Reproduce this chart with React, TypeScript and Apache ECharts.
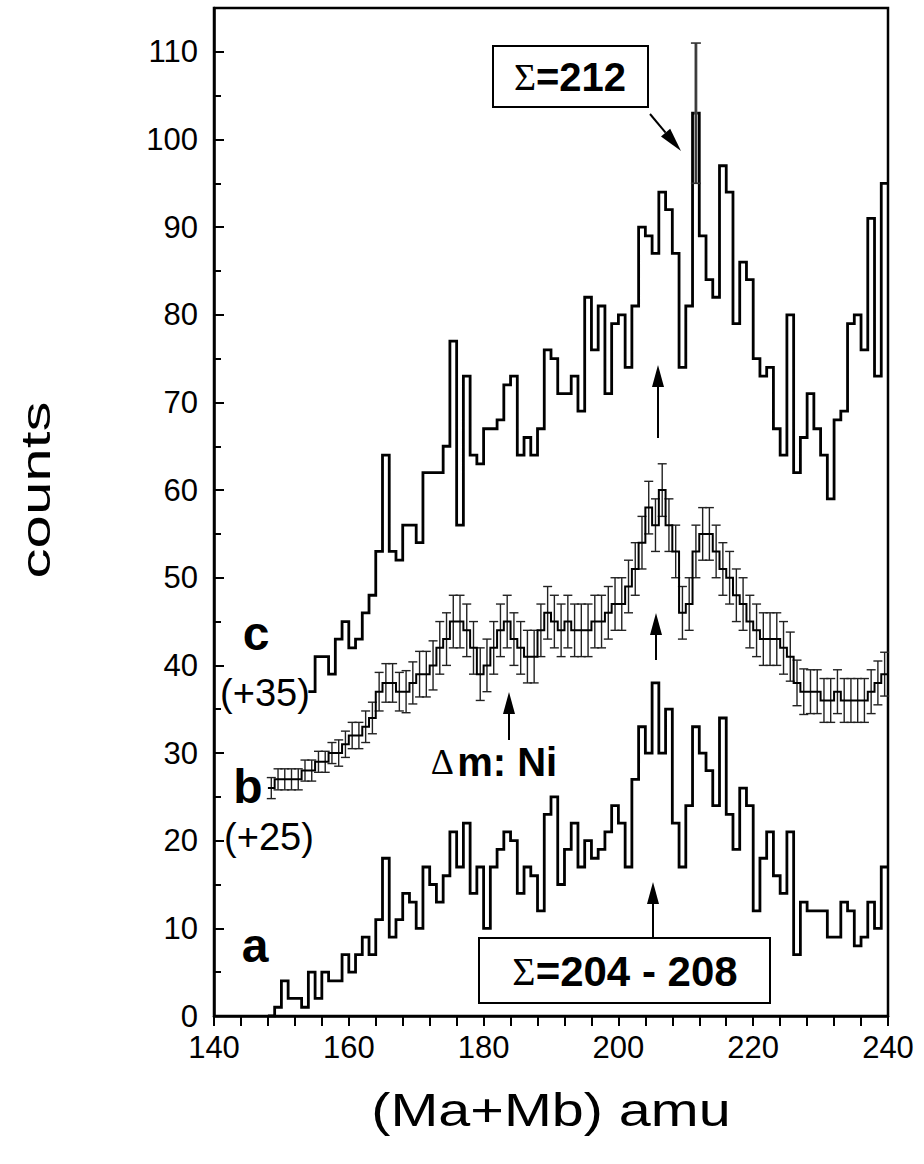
import React, { useEffect, useRef } from "react";
import * as echarts from "echarts";

// ---- data (bins are 1 amu wide, starting at the given mass) ----
const xTicks = [140, 160, 180, 200, 220, 240];
const yTicks = [0, 10, 20, 30, 40, 50, 60, 70, 80, 90, 100, 110];

// trace a (no offset), bins 148..239
const aStart = 148;
const aCounts = [
  0, 1, 4, 2, 2, 1, 5, 2, 5, 4,
  4, 7, 5, 7, 9, 7, 11, 18, 9, 11,
  14, 13, 10, 17, 15, 13, 16, 21, 17, 22,
  14, 17, 10, 17, 19, 21, 20, 14, 17, 16,
  12, 23, 25, 15, 19, 22, 17, 20, 18, 19,
  21, 24, 22, 17, 27, 33, 30, 38, 30, 35,
  22, 17, 24, 33, 30, 28, 24, 34, 23, 19,
  26, 24, 12, 18, 21, 16, 14, 21, 7, 13,
  12, 12, 12, 9, 9, 13, 12, 8, 9, 13,
  10, 17,
];

// trace b (+25), bins 148..239, with error half-widths
const bOffset = 25;
const bStart = 148;
const bCounts = [
  1, 2, 2, 2, 2, 3, 3, 4, 4, 5,
  5, 6, 7, 7, 8, 9, 12, 13, 13, 12,
  12, 13, 14, 14, 15, 17, 18, 20, 20, 19,
  17, 14, 15, 17, 19, 20, 18, 17, 16, 16,
  19, 21, 20, 19, 20, 19, 19, 19, 20, 20,
  21, 22, 22, 24, 26, 29, 33, 31, 35, 31,
  28, 21, 22, 28, 30, 30, 28, 26, 25, 23,
  22, 20, 19, 18, 18, 18, 17, 16, 13, 12,
  12, 12, 11, 11, 12, 11, 11, 11, 11, 12,
  13, 14,
];
const bErrors = [
  1.2, 1.2, 1.2, 1.2, 1.2, 1.2, 1.2, 1.2, 1.2, 1.2,
  1.5, 1.5, 1.5, 1.5, 1.8, 1.8, 2.2, 2.2, 2.2, 2.2,
  2.4, 2.4, 2.6, 2.6, 2.8, 3, 3, 3, 3, 3,
  3, 3, 3, 3, 3, 3, 3, 3, 3, 3,
  3, 3, 3, 3, 3, 3, 3, 3, 3, 3,
  3, 3, 3, 3, 3, 3, 3, 3, 3, 3,
  3, 3, 3, 3, 3, 3, 3, 3, 3, 3,
  3, 3, 3, 3, 3, 3, 3, 2.8, 2.6, 2.6,
  2.5, 2.5, 2.5, 2.5, 2.5, 2.5, 2.5, 2.5, 2.5, 2.5,
  2.5, 2.5,
];

// trace c (+35), bins 154..239
const cOffset = 35;
const cStart = 154;
const cCounts = [
  2, 6, 6, 4, 8, 10, 7, 8, 11, 13,
  18, 29, 18, 17, 21, 21, 19, 27, 27, 27,
  30, 42, 21, 38, 29, 28, 32, 32, 33, 37,
  38, 29, 31, 29, 32, 41, 40, 36, 36, 38,
  34, 47, 41, 46, 36, 44, 45, 39, 46, 55,
  54, 52, 59, 57, 52, 39, 46, 68, 54, 49,
  47, 62, 59, 44, 51, 49, 40, 38, 39, 32,
  29, 45, 27, 31, 36, 32, 29, 24, 33, 34,
  44, 45, 41, 56, 38, 60,
];
// single error bar drawn on the Σ=212 bin of trace c (raw counts)
const cErrBins = [211];
const cErrLow = [60];
const cErrHigh = [76];

const FONT = '"Liberation Sans", Arial, Helvetica, sans-serif';
const SERIF = '"Liberation Serif", "DejaVu Serif", serif';

function stepData(start: number, vals: number[], offset: number) {
  const pts: number[][] = vals.map((v, i) => [start + i, v + offset]);
  pts.push([start + vals.length, vals[vals.length - 1] + offset]);
  return pts;
}

function errorRender(capHalf: number, color: string, width: number, bandWidth = 0) {
  return (params: any, api: any) => {
    const x = api.value(0);
    const lo = api.coord([x, api.value(1)]);
    const hi = api.coord([x, api.value(2)]);
    const style = { stroke: color, lineWidth: width };
    const children: any[] = [
      { type: "line", shape: { x1: lo[0], y1: lo[1], x2: hi[0], y2: hi[1] }, style },
      { type: "line", shape: { x1: lo[0] - capHalf, y1: lo[1], x2: lo[0] + capHalf, y2: lo[1] }, style },
      { type: "line", shape: { x1: hi[0] - capHalf, y1: hi[1], x2: hi[0] + capHalf, y2: hi[1] }, style },
    ];
    if (bandWidth > 0) {
      children.unshift({
        type: "rect",
        shape: { x: lo[0] - bandWidth / 2, y: hi[1], width: bandWidth, height: lo[1] - hi[1] },
        style: { fill: "#666" },
      });
    }
    return { type: "group", children };
  };
}

function arrowUp(x: number, tip: number, tail: number) {
  return [
    { type: "line", shape: { x1: x, y1: tip + 16, x2: x, y2: tail }, style: { stroke: "#000", lineWidth: 2 } },
    { type: "polygon", shape: { points: [[x, tip], [x - 6, tip + 22], [x + 6, tip + 22]] }, style: { fill: "#000" } },
  ];
}

export default function App() {
  const ref = useRef<HTMLDivElement>(null);
  useEffect(() => {
    document.body.style.margin = "0";
    if (!ref.current) return;
    const chart = echarts.init(ref.current, undefined, { renderer: "svg" });

    const aData = stepData(aStart, aCounts, 0);
    const bData = stepData(bStart, bCounts, bOffset);
    const cData = stepData(cStart, cCounts, cOffset);
    const bErr = bCounts.map((v, i) => [bStart + i + 0.5, v + bOffset - bErrors[i], v + bOffset + bErrors[i]]);
    const cErr = cErrBins.map((b, i) => [b + 0.5, cErrLow[i] + cOffset, cErrHigh[i] + cOffset]);

    // arrow toward the Σ=212 spike
    const t0 = [650, 114];
    const t1 = [681, 151];
    const dx = t1[0] - t0[0], dy = t1[1] - t0[1];
    const len = Math.hypot(dx, dy);
    const ux = dx / len, uy = dy / len;
    const bx = t1[0] - ux * 24, by = t1[1] - uy * 24;
    const px = -uy * 6, py = ux * 6;

    chart.setOption({
      animation: false,
      backgroundColor: "#fff",
      grid: { left: 214, right: 36, top: 8, bottom: 148, show: true, borderColor: "#000", borderWidth: 2.5, backgroundColor: "transparent" },
      xAxis: {
        type: "value",
        min: xTicks[0],
        max: xTicks[xTicks.length - 1],
        interval: 20,
        axisLine: { show: true, lineStyle: { color: "#000", width: 2.5 } },
        axisTick: { show: true, inside: false, length: 10, lineStyle: { color: "#000", width: 2 } },
        minorTick: { show: true, splitNumber: 5, length: 10, lineStyle: { color: "#000", width: 2 } },
        axisLabel: { fontSize: 31, color: "#000", fontFamily: FONT, margin: 16 },
        splitLine: { show: false },
      },
      yAxis: {
        type: "value",
        min: yTicks[0],
        max: 115,
        interval: 10,
        axisLine: { show: true, lineStyle: { color: "#000", width: 2.5 } },
        axisTick: { show: true, inside: true, length: 10, lineStyle: { color: "#000", width: 2 } },
        minorTick: { show: true, splitNumber: 2, length: 7, lineStyle: { color: "#000", width: 2 } },
        axisLabel: {
          fontSize: 31,
          color: "#000",
          fontFamily: FONT,
          margin: 16,
          formatter: (v: number) => (yTicks.indexOf(v) >= 0 ? String(v) : ""),
        },
        splitLine: { show: false },
      },
      series: [
        {
          type: "custom",
          renderItem: errorRender(4.5, "#222", 1.4),
          data: bErr,
          encode: { x: 0, y: [1, 2] },
          z: 2,
          silent: true,
        },
        {
          type: "line",
          step: "end",
          data: bData,
          showSymbol: false,
          lineStyle: { color: "#000", width: 2, join: "miter" },
          z: 3,
          silent: true,
        },
        {
          type: "line",
          step: "end",
          data: aData,
          showSymbol: false,
          lineStyle: { color: "#000", width: 2.8, join: "miter" },
          z: 3,
          silent: true,
        },
        {
          type: "line",
          step: "end",
          data: cData,
          showSymbol: false,
          lineStyle: { color: "#000", width: 2.8, join: "miter" },
          z: 3,
          silent: true,
        },
        {
          type: "custom",
          renderItem: errorRender(5, "#333", 1.6, 3),
          data: cErr,
          encode: { x: 0, y: [1, 2] },
          z: 4,
          silent: true,
        },
      ],
      graphic: [
        {
          type: "text",
          x: 36,
          y: 490,
          rotation: Math.PI / 2,
          scaleX: 1.5,
          style: { text: "counts", x: 0, y: 0, font: `40px ${FONT}`, fill: "#000", align: "center", verticalAlign: "middle" },
        },
        {
          type: "text",
          x: 551,
          y: 1110,
          scaleX: 1.25,
          style: { text: "(Ma+Mb) amu", x: 0, y: 0, font: `46px ${FONT}`, fill: "#000", align: "center", verticalAlign: "middle" },
        },
        { type: "text", style: { text: "c", x: 256, y: 633, font: `bold 48px ${FONT}`, fill: "#000", align: "center", verticalAlign: "middle" } },
        { type: "text", style: { text: "(+35)", x: 265, y: 693, font: `38px ${FONT}`, fill: "#000", align: "center", verticalAlign: "middle" } },
        { type: "text", style: { text: "b", x: 248, y: 786, font: `bold 48px ${FONT}`, fill: "#000", align: "center", verticalAlign: "middle" } },
        { type: "text", style: { text: "(+25)", x: 269, y: 837, font: `38px ${FONT}`, fill: "#000", align: "center", verticalAlign: "middle" } },
        { type: "text", style: { text: "a", x: 255, y: 945, font: `bold 48px ${FONT}`, fill: "#000", align: "center", verticalAlign: "middle" } },
        {
          type: "text",
          style: {
            text: "{d|Δ} {t|m: Ni}",
            x: 494,
            y: 762,
            align: "center",
            verticalAlign: "middle",
            rich: {
              d: { font: `36px ${SERIF}`, fill: "#000" },
              t: { font: `bold 40px ${FONT}`, fill: "#000" },
            },
          },
        },
        { type: "rect", shape: { x: 493, y: 46, width: 155, height: 61 }, style: { fill: "#fff", stroke: "#000", lineWidth: 2 } },
        {
          type: "text",
          style: {
            text: "{s|Σ}{t|=212}",
            x: 570,
            y: 77,
            align: "center",
            verticalAlign: "middle",
            rich: {
              s: { font: `38px ${SERIF}`, fill: "#000" },
              t: { font: `bold 40px ${FONT}`, fill: "#000" },
            },
          },
        },
        { type: "rect", shape: { x: 479, y: 938, width: 291, height: 65 }, style: { fill: "#fff", stroke: "#000", lineWidth: 2 } },
        {
          type: "text",
          style: {
            text: "{s|Σ}{t|=204 - 208}",
            x: 625,
            y: 971,
            align: "center",
            verticalAlign: "middle",
            rich: {
              s: { font: `40px ${SERIF}`, fill: "#000" },
              t: { font: `bold 42px ${FONT}`, fill: "#000" },
            },
          },
        },
        ...arrowUp(658, 365, 438),
        ...arrowUp(656, 613, 660),
        ...arrowUp(509, 692, 740),
        ...arrowUp(653, 882, 938),
        { type: "line", shape: { x1: t0[0], y1: t0[1], x2: bx, y2: by }, style: { stroke: "#000", lineWidth: 2 } },
        { type: "polygon", shape: { points: [[t1[0], t1[1]], [bx + px, by + py], [bx - px, by - py]] }, style: { fill: "#000" } },
      ],
    });
    return () => chart.dispose();
  }, []);
  return <div ref={ref} style={{ width: 924, height: 1164, background: "#fff" }} />;
}
